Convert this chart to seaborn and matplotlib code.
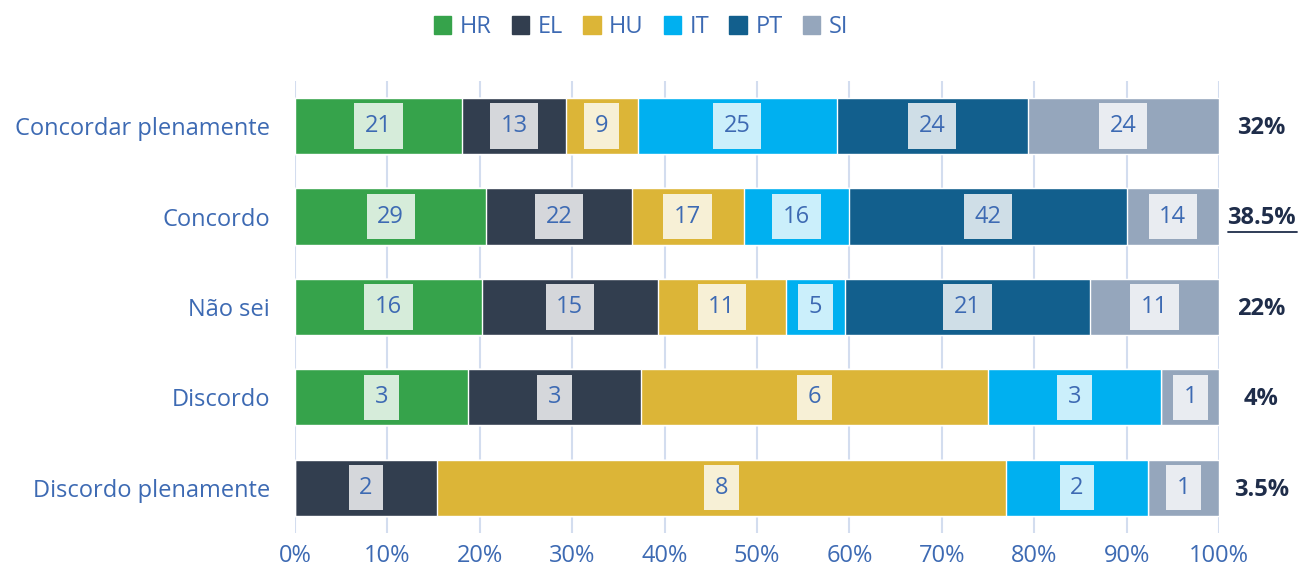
import numpy as np
import pandas as pd
import matplotlib.pyplot as plt
import seaborn as sns
from matplotlib.lines import Line2D
from matplotlib.patches import Patch

categories = ["Concordar plenamente", "Concordo", "Não sei", "Discordo", "Discordo plenamente"]
countries = ["HR", "EL", "HU", "IT", "PT", "SI"]
hr = [21, 29, 16, 3, 0]
el = [13, 22, 15, 3, 2]
hu = [9, 17, 11, 6, 8]
it = [25, 16, 5, 3, 2]
pt = [24, 42, 21, 0, 0]
si = [24, 14, 11, 1, 1]
totals_pct = ["32%", "38.5%", "22%", "4%", "3.5%"]

colors = ["#36a34b", "#323e4f", "#dcb537", "#00b0f0", "#125f8d", "#95a6bc"]
TXT = "#3d6ab3"
FS = 17

counts = pd.DataFrame(dict(zip(countries, [hr, el, hu, it, pt, si])), index=categories)
pct = counts.div(counts.sum(axis=1), axis=0) * 100
cum = pct.cumsum(axis=1)

sns.set_theme(style="white")
plt.rcParams["font.family"] = ["Open Sans", "DejaVu Sans"]

fig = plt.figure(figsize=(13, 5.78), dpi=100)
ax = fig.add_axes([0.2269, 0.078, 0.7108, 0.782])

# stacked bars: draw cumulative widths from the last series to the first
for name, col in reversed(list(zip(countries, colors))):
    d = pd.DataFrame({"cat": categories, "val": cum[name].values})
    sns.barplot(data=d, y="cat", x="val", color=col, width=0.62, ax=ax,
                saturation=1, orient="h", zorder=3)

for i, cat in enumerate(categories):
    for name in countries:
        v = counts.loc[cat, name]
        if v == 0:
            continue
        x = cum.loc[cat, name] - pct.loc[cat, name] / 2
        ax.text(x, i, str(v), ha="center", va="center", fontsize=FS, color=TXT, zorder=5,
                bbox=dict(boxstyle="square,pad=0.45", fc="white", ec="none", alpha=0.8))
    ax.text(1.046, i + 0.02, totals_pct[i], transform=ax.get_yaxis_transform(), ha="center",
            va="center", fontsize=FS, fontweight="bold", color="#1f2d4a")

# underline on the highlighted total
fig.add_artist(Line2D([1228 / 1300, 1297 / 1300], [1 - 232 / 578, 1 - 232 / 578],
                      color="#1f2d4a", lw=1.3))

ax.set_xlim(0, 100)
ax.set_ylim(4.5, -0.5)
ax.set_xticks(np.arange(0, 101, 10))
ax.set_xticklabels([f"{t}%" for t in range(0, 101, 10)])
ax.tick_params(axis="both", colors=TXT, labelsize=FS, length=0, pad=8)
ax.tick_params(axis="y", pad=18)
ax.set_xlabel("")
ax.set_ylabel("")
ax.grid(axis="x", color="#d3ddef", lw=1.5, zorder=0)
ax.set_axisbelow(True)
for s in ax.spines.values():
    s.set_visible(False)

handles = [Patch(color=c, label=n) for n, c in zip(countries, colors)]
fig.legend(handles=handles, loc="center", bbox_to_anchor=(0.493, 0.953), ncol=6, frameon=False,
           fontsize=FS, labelcolor=TXT, handlelength=0.75, handleheight=0.75,
           handletextpad=0.35, columnspacing=0.85)

fig.savefig("out.png", dpi=100)
